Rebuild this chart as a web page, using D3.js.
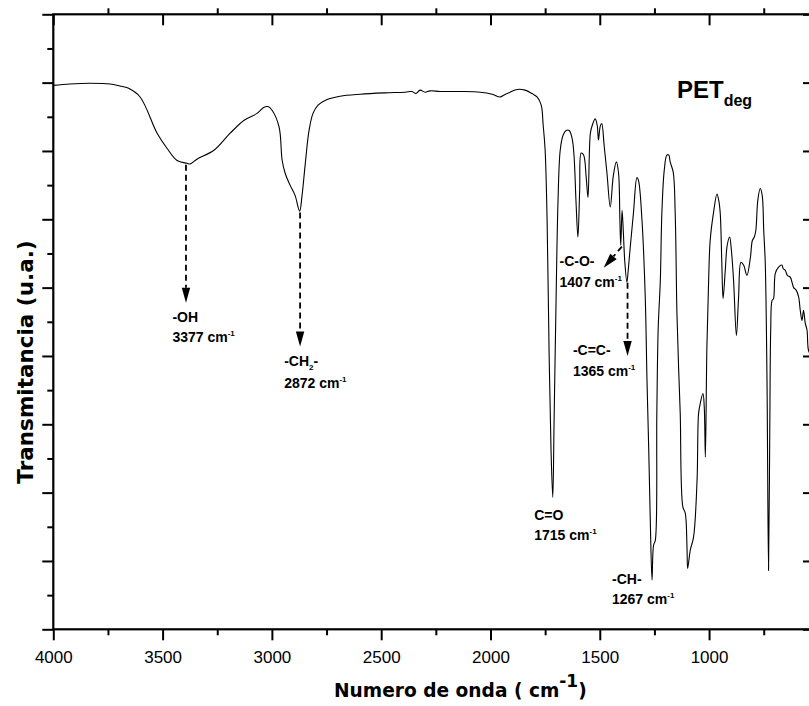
<!DOCTYPE html>
<html><head><meta charset="utf-8">
<script src="https://cdn.jsdelivr.net/npm/d3@7/dist/d3.min.js"></script>
<style>body{margin:0;background:#fff}svg{display:block}</style>
</head><body>
<svg id="c" width="809" height="706"></svg>
<script>
// ---- data (wavenumber in cm-1, transmittance in arbitrary units) ----
const wavenumber = [4000,3924,3832,3740,3695,3658,3603,3525,3480,3434,3388,3374,3343,3265,3191,3127,3068,3036,3018,3000,2967,2953,2939,2917,2894,2873,2862,2848,2830,2812,2789,2757,2688,2596,2482,2391,2359,2341,2322,2299,2276,2230,2139,2047,1992,1956,1937,1910,1878,1842,1810,1787,1768,1759,1750,1741,1732,1723,1715,1709,1700,1691,1681,1668,1654,1640,1627,1618,1609,1600,1592,1585,1574,1562,1554,1543,1534,1521,1512,1506,1498,1491,1480,1467,1452,1438,1424,1414,1408,1404,1398,1392,1386,1376,1370,1361,1346,1330,1323,1307,1292,1284,1276,1269,1261,1254,1246,1239,1233,1223,1216,1205,1193,1184,1178,1164,1155,1147,1139,1132,1120,1109,1101,1098,1086,1071,1055,1048,1040,1028,1022,1017,1010,1002,995,980,964,956,949,942,936,926,917,906,898,888,875,865,854,842,827,811,802,793,786,777,766,757,750,743,735,728,722,718,712,705,697,682,667,661,651,642,628,619,613,601,590,583,575,568,560,552,545,533,520];
const transmittance = [79.6,79.8,79.9,79.8,79.5,79.2,77.9,72.6,70.4,68.6,68.2,68.1,68.8,70.1,72.6,74.5,75.5,76.4,76.5,76.0,73.5,68.6,66.7,65.0,63.5,61.2,63.5,67.9,73.0,75.5,76.7,77.4,78.0,78.3,78.5,78.6,78.7,78.4,78.9,78.6,78.8,78.7,78.7,78.6,78.3,77.9,78.2,78.6,79.0,78.9,78.4,77.9,76.7,73.8,70.1,59.9,40.8,26.2,19.3,30.6,48.1,62.8,70.1,72.3,73.0,73.0,71.9,69.4,62.8,57.4,64.2,69.7,69.4,66.1,63.2,72.6,73.8,74.7,73.8,71.6,73.6,74.0,70.8,66.7,61.8,66.4,68.4,66.7,59.9,56.2,61.3,58.0,54.0,50.8,52.5,55.8,60.9,66.1,65.7,59.9,48.6,36.4,26.2,16.0,7.2,12.3,13.0,31.6,43.8,51.1,60.9,67.2,69.4,69.4,68.4,66.9,60.9,46.2,37.9,31.6,17.9,17.0,12.0,8.9,11.6,13.5,21.8,31.6,33.1,34.5,32.5,25.2,41.3,51.1,56.9,60.9,63.7,62.8,60.9,54.0,48.4,52.5,56.2,57.4,55.5,51.1,43.0,48.6,53.7,53.3,51.8,54.4,56.9,57.4,58.4,62.8,64.5,63.5,58.4,53.6,36.4,8.6,30.6,43.8,48.1,48.4,52.1,53.0,53.3,52.8,52.5,51.8,51.5,50.6,50.0,49.6,48.6,46.7,45.2,46.7,44.8,43.8,40.8,40.1,39.8];

const xMajorTicks = [4000,3500,3000,2500,2000,1500,1000];
const xTickLabels = ["4000","3500","3000","2500","2000","1500","1000"];
const xMinorTicks = [3750,3250,2750,2250,1750,1250,750];
const yMajorTicks = [0,10,20,30,40,50,60,70,80,90];
const yMinorTicks = [5,15,25,35,45,55,65,75,85];

const peakGroups = ["-OH","-CH\u2082-","C=O","-C-O-","-C=C-","-CH-"];
const peakPositions = ["3377","2872","1715","1407","1365","1267"];

// ---- layout ----
const L = 53.3, R = 814, T = 14.3, B = 629.3;
const x = d3.scaleLinear().domain([4000, 520]).range([L, R]);
const y = d3.scaleLinear().domain([0, 90]).range([B, T]);
const svg = d3.select('#c');

// spectrum
const line = d3.line()
  .x((d, i) => x(wavenumber[i]))
  .y((d, i) => y(transmittance[i]))
  .curve(d3.curveCatmullRom.alpha(0.5));
svg.append('path').datum(wavenumber).attr('d', line)
  .attr('fill', 'none').attr('stroke', '#000').attr('stroke-width', 1.1);

// annotations: text anchor (wn, value), line spacing, arrow
const ann = [
  {g:0, wn:3455, v:45.0, dy:20, arrow:[3393, 68.0, 3393, 47.8]},
  {g:1, wn:2944, v:38.6, dy:22.6, arrow:[2871, 61.0, 2871, 41.4]},
  {g:2, wn:1800, v:16.0, dy:20},
  {g:3, wn:1684, v:53.2, dy:21.3, arrow:[1399, 56.0, 1482, 52.9]},
  {g:4, wn:1623, v:40.1, dy:20.7, arrow:[1373, 50.7, 1373, 40.0]},
  {g:5, wn:1444, v:6.6, dy:20}
];
const font = "'Liberation Sans', Arial, sans-serif";
ann.forEach(a => {
  const tx = x(a.wn), ty = y(a.v);
  const t1 = svg.append('text').attr('x', tx).attr('y', ty)
    .attr('font-family', font).attr('font-weight', 'bold').attr('font-size', 14);
  const grp = peakGroups[a.g];
  if (grp.indexOf('\u2082') >= 0) {
    t1.append('tspan').text('-CH');
    t1.append('tspan').text('2').attr('font-size', 8).attr('dy', 4);
    t1.append('tspan').text('-').attr('dy', -4);
  } else {
    t1.text(grp);
  }
  const t2 = svg.append('text').attr('x', tx).attr('y', ty + a.dy)
    .attr('font-family', font).attr('font-weight', 'bold').attr('font-size', 14);
  t2.append('tspan').text(peakPositions[a.g] + ' cm');
  t2.append('tspan').text('-1').attr('font-size', 8).attr('dy', -6);

  if (a.arrow) {
    const x1 = x(a.arrow[0]), y1 = y(a.arrow[1]), x2 = x(a.arrow[2]), y2 = y(a.arrow[3]);
    const ang = Math.atan2(y2 - y1, x2 - x1);
    const hl = 15, hw = 4.2;
    const bx = x2 - hl * Math.cos(ang), by = y2 - hl * Math.sin(ang);
    svg.append('line').attr('x1', x1).attr('y1', y1).attr('x2', bx).attr('y2', by)
      .attr('stroke', '#000').attr('stroke-width', 1.8).attr('stroke-dasharray', '6,4');
    const px = -Math.sin(ang), py = Math.cos(ang);
    svg.append('path')
      .attr('d', `M${x2},${y2}L${bx + hw * px},${by + hw * py}L${bx - hw * px},${by - hw * py}Z`)
      .attr('fill', '#000');
  }
});

// sample label
const pet = svg.append('text').attr('x', x(1147)).attr('y', y(77.7))
  .attr('font-family', font).attr('font-weight', 'bold').attr('font-size', 24);
pet.append('tspan').text('PET');
pet.append('tspan').text('deg').attr('font-size', 16).attr('dy', 7.7);

// ---- axes ----
function styleAxis(g) {
  g.select('.domain').remove();
  g.selectAll('.tick line').attr('stroke', '#000').attr('stroke-width', 2);
}
svg.append('g').attr('transform', `translate(0,${B})`)
  .call(d3.axisBottom(x).tickValues(xMajorTicks).tickFormat((d, i) => xTickLabels[i])
    .tickSizeInner(11).tickSizeOuter(0).tickPadding(11))
  .call(styleAxis)
  .call(g => g.selectAll('text').attr('font-family', font).attr('font-size', 17).attr('fill', '#000'));
svg.append('g').attr('transform', `translate(0,${B})`)
  .call(d3.axisBottom(x).tickValues(xMinorTicks).tickFormat('').tickSizeInner(6).tickSizeOuter(0))
  .call(styleAxis);
svg.append('g').attr('transform', `translate(0,${T})`)
  .call(d3.axisTop(x).tickValues(xMajorTicks).tickFormat('').tickSizeInner(-11).tickSizeOuter(0))
  .call(styleAxis);
svg.append('g').attr('transform', `translate(0,${T})`)
  .call(d3.axisTop(x).tickValues(xMinorTicks).tickFormat('').tickSizeInner(6).tickSizeOuter(0))
  .call(styleAxis);
svg.append('g').attr('transform', `translate(${L},0)`)
  .call(d3.axisLeft(y).tickValues(yMajorTicks).tickFormat('').tickSizeInner(11).tickSizeOuter(0))
  .call(styleAxis);
svg.append('g').attr('transform', `translate(${L},0)`)
  .call(d3.axisLeft(y).tickValues(yMinorTicks).tickFormat('').tickSizeInner(6).tickSizeOuter(0))
  .call(styleAxis);
svg.append('g').attr('transform', `translate(${R},0)`)
  .call(d3.axisRight(y).tickValues(yMajorTicks).tickFormat('').tickSizeInner(-11).tickSizeOuter(0))
  .call(styleAxis);
svg.append('g').attr('transform', `translate(${R},0)`)
  .call(d3.axisRight(y).tickValues(yMinorTicks).tickFormat('').tickSizeInner(6).tickSizeOuter(0))
  .call(styleAxis);

// frame
svg.append('rect').attr('x', L).attr('y', T).attr('width', R - L).attr('height', B - T)
  .attr('fill', 'none').attr('stroke', '#000').attr('stroke-width', 2.2);

// axis titles
const tfont = "'DejaVu Sans', Verdana, sans-serif";
const xt = svg.append('text').attr('x', 334).attr('y', 697)
  .attr('font-family', tfont).attr('font-weight', 'bold').attr('font-size', 18.6).attr('fill', '#000');
xt.append('tspan').text('Numero de onda ( cm');
xt.append('tspan').text('-1').attr('font-size', 17).attr('dy', -10);
xt.append('tspan').text(')').attr('dy', 10);

svg.append('text')
  .attr('transform', 'translate(32.5,362) rotate(-90)')
  .attr('text-anchor', 'middle')
  .attr('font-family', tfont).attr('font-weight', 'bold').attr('font-size', 21.5).attr('fill', '#000')
  .text('Transmitancia (u.a.)');
</script>
</body></html>
